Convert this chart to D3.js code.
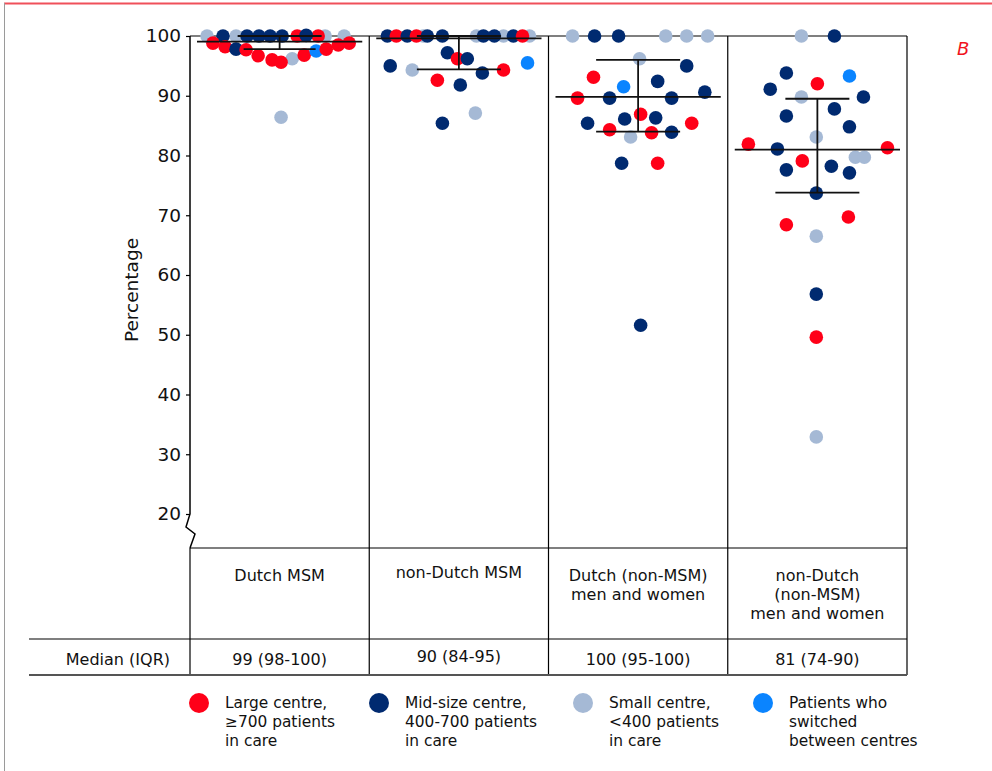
<!DOCTYPE html>
<html><head><meta charset="utf-8">
<script src="https://cdn.jsdelivr.net/npm/d3@7"></script>
<style>
html,body{margin:0;padding:0;background:#fff;}
svg{display:block;font-family:"DejaVu Sans",Verdana,sans-serif;}
</style></head>
<body><svg id="chart" width="992" height="771"></svg>
<script>
// ---------- DATA ----------
const categories = ["Dutch MSM", "non-Dutch MSM", "Dutch (non-MSM) men and women", "non-Dutch (non-MSM) men and women"];
const headerLines = [["Dutch MSM"], ["non-Dutch MSM"], ["Dutch (non-MSM)", "men and women"], ["non-Dutch", "(non-MSM)", "men and women"]];
const medianLabels = ["99 (98-100)", "90 (84-95)", "100 (95-100)", "81 (74-90)"];
const medians = [99.05, 99.6, 89.8, 81.0];
const lowerQ = [97.8, 94.4, 84.0, 73.8];
const upperQ = [100, 100, 96.0, 89.5];
const yTicks = [20, 30, 40, 50, 60, 70, 80, 90, 100];
const groupKeys = ["L", "M", "S", "P"];
const groupLabels = [
  ["Large centre,", "\u2265700 patients", "in care"],
  ["Mid-size centre,", "400-700 patients", "in care"],
  ["Small centre,", "<400 patients", "in care"],
  ["Patients who", "switched", "between centres"]
];
// points: [percentage, horizontal jitter (fraction of column), centre group]
const dutchMSM = [
  [100, -0.405, "S"], [100, -0.243, "S"], [100, 0.254, "S"], [100, 0.360, "S"],
  [100, -0.316, "M"], [100, -0.182, "M"], [100, -0.115, "M"], [100, -0.053, "M"], [100, 0.014, "M"],
  [100, 0.098, "L"], [100, 0.215, "L"], [100.1, 0.148, "M"],
  [98.8, -0.372, "L"], [98.2, -0.304, "L"], [97.8, -0.243, "M"], [97.7, -0.187, "L"],
  [96.7, -0.120, "L"], [96.0, -0.042, "L"], [96.2, 0.070, "S"], [95.6, 0.008, "L"],
  [96.8, 0.137, "L"], [97.5, 0.204, "P"], [97.8, 0.260, "L"], [98.5, 0.327, "L"], [98.8, 0.388, "L"],
  [86.4, 0.008, "S"]
];
const nonDutchMSM = [
  [100, -0.198, "S"], [100, 0.098, "S"], [100, 0.249, "S"], [100, 0.394, "S"],
  [100, -0.399, "M"], [100, -0.349, "L"], [100, -0.288, "M"], [100, -0.237, "L"], [100, -0.176, "M"],
  [100, -0.092, "M"], [100, 0.137, "M"], [100, 0.198, "M"], [100, 0.304, "M"], [100, 0.355, "L"],
  [97.2, -0.064, "M"], [96.2, -0.008, "L"], [96.2, 0.047, "M"], [95.0, -0.383, "M"],
  [94.3, -0.260, "S"], [94.3, 0.249, "L"], [95.5, 0.383, "P"], [93.8, 0.131, "M"],
  [92.6, -0.120, "L"], [91.8, 0.008, "M"], [87.1, 0.092, "S"], [85.4, -0.092, "M"]
];
const dutchOther = [
  [100, -0.366, "S"], [100, -0.243, "M"], [100, -0.109, "M"], [100, 0.154, "S"], [100, 0.271, "S"], [100, 0.388, "S"],
  [96.2, 0.008, "S"], [95.0, 0.271, "M"], [93.1, -0.249, "L"], [92.4, 0.109, "M"], [91.5, -0.081, "P"],
  [90.6, 0.372, "M"], [89.6, -0.338, "L"], [89.6, -0.159, "M"], [89.6, 0.187, "M"],
  [83.1, -0.042, "S"], [86.9, 0.014, "L"], [85.4, -0.282, "M"], [86.1, -0.075, "M"], [86.3, 0.098, "M"],
  [85.4, 0.299, "L"], [84.3, -0.159, "L"], [83.8, 0.075, "L"], [83.9, 0.187, "M"],
  [78.7, -0.092, "M"], [78.7, 0.109, "L"], [51.6, 0.014, "M"]
];
const nonDutchOther = [
  [100, -0.089, "S"], [100, 0.095, "M"], [93.8, -0.173, "M"], [93.3, 0.179, "P"], [92.0, 0.0, "L"],
  [91.1, -0.263, "M"], [89.8, 0.257, "M"], [89.8, -0.089, "S"], [87.8, 0.095, "M"], [86.6, -0.173, "M"],
  [84.8, 0.179, "M"], [83.1, -0.006, "S"], [81.9, -0.385, "L"], [81.3, 0.391, "L"], [81.1, -0.223, "M"],
  [79.7, 0.212, "S"], [79.7, 0.262, "S"], [79.1, -0.084, "L"], [78.2, 0.078, "M"], [77.6, -0.173, "M"],
  [77.1, 0.179, "M"], [73.7, -0.006, "M"], [68.4, -0.173, "L"], [69.7, 0.173, "L"], [66.5, -0.006, "S"],
  [56.8, -0.006, "M"], [49.6, -0.006, "L"], [32.9, -0.006, "S"]
];
const pointSets = [dutchMSM, nonDutchMSM, dutchOther, nonDutchOther];

// ---------- STYLE / LAYOUT ----------
const colors = {L: "#ff0018", M: "#002a70", S: "#a5b9d5", P: "#0a84ff"};
const svg = d3.select("#chart");
const plotLeft = 190, plotRight = 907, plotTop = 36, axisBottom = 514, headerTop = 548, rowTop = 639, rowBottom = 675;
const tableFont = 16;

const x = d3.scaleBand().domain(categories).range([plotLeft, plotRight]).padding(0);
const bw = x.bandwidth();
const y = d3.scaleLinear().domain([20, 100]).range([axisBottom, plotTop]);
const jit = d3.scaleLinear().domain([-0.5, 0.5]).range([-bw / 2, bw / 2]);

// decorative page border
svg.append("line").attr("x1", 4).attr("x2", 992).attr("y1", 3.5).attr("y2", 3.5)
  .attr("stroke", "#f0505a").attr("stroke-width", 1.8);
svg.append("line").attr("x1", 4.5).attr("x2", 4.5).attr("y1", 3).attr("y2", 771)
  .attr("stroke", "#9a9a9a").attr("stroke-width", 1);

// Panel label B
svg.append("text").attr("x", 957).attr("y", 55).attr("fill", "#f0141e")
  .attr("font-size", 18).attr("font-style", "italic").text("B");

// Column lines
const colEdges = categories.map(c => x(c)).concat([plotRight]);
colEdges.forEach((cx, i) => {
  if (i === 0) return;
  svg.append("line").attr("x1", cx).attr("x2", cx).attr("y1", plotTop).attr("y2", rowBottom)
    .attr("stroke", "#000").attr("stroke-width", 1.2);
});
svg.append("line").attr("x1", plotLeft).attr("x2", plotRight).attr("y1", plotTop).attr("y2", plotTop)
  .attr("stroke", "#000").attr("stroke-width", 1.2);
svg.append("line").attr("x1", plotLeft).attr("x2", plotRight).attr("y1", headerTop).attr("y2", headerTop)
  .attr("stroke", "#000").attr("stroke-width", 1.2);
svg.append("line").attr("x1", plotLeft).attr("x2", plotLeft).attr("y1", headerTop).attr("y2", rowBottom)
  .attr("stroke", "#000").attr("stroke-width", 1.2);
svg.append("line").attr("x1", 29).attr("x2", plotRight).attr("y1", rowTop).attr("y2", rowTop)
  .attr("stroke", "#000").attr("stroke-width", 1.2);
svg.append("line").attr("x1", 29).attr("x2", plotRight).attr("y1", rowBottom).attr("y2", rowBottom)
  .attr("stroke", "#555").attr("stroke-width", 2);

// Y axis
const yAxis = d3.axisLeft(y).tickValues(yTicks).tickSize(4).tickPadding(5);
const gy = svg.append("g").attr("transform", `translate(${plotLeft},0)`).call(yAxis);
gy.select(".domain").remove();
gy.selectAll(".tick line").attr("stroke", "#000").attr("stroke-width", 1.2);
gy.selectAll(".tick text").attr("font-size", 18.5).attr("fill", "#111")
  .attr("font-family", "DejaVu Sans, Verdana, sans-serif");
svg.append("path")
  .attr("d", `M${plotLeft},${plotTop}L${plotLeft},${axisBottom}L${plotLeft - 4},${axisBottom + 13}L${plotLeft + 5},${axisBottom + 20}L${plotLeft},${headerTop}`)
  .attr("fill", "none").attr("stroke", "#000").attr("stroke-width", 1.5);
svg.append("text").attr("transform", `translate(138,${(plotTop + axisBottom) / 2 + 15}) rotate(-90)`)
  .attr("text-anchor", "middle").attr("font-size", 18.5).attr("fill", "#111").text("Percentage");

// Dots
categories.forEach((c, i) => {
  const cx0 = x(c) + bw / 2;
  svg.append("g").selectAll("circle").data(pointSets[i]).join("circle")
    .attr("cx", d => cx0 + jit(d[1]))
    .attr("cy", d => y(d[0]))
    .attr("r", 6.8)
    .attr("fill", d => colors[d[2]]);
});

// Median and IQR lines
categories.forEach((c, i) => {
  const cx0 = x(c) + bw / 2;
  const g = svg.append("g").attr("stroke", "#111").attr("stroke-width", 1.8);
  g.append("line").attr("x1", x(c) + 7).attr("x2", x(c) + bw - 7)
    .attr("y1", y(medians[i])).attr("y2", y(medians[i]));
  g.append("line").attr("x1", cx0).attr("x2", cx0)
    .attr("y1", y(upperQ[i])).attr("y2", y(lowerQ[i]));
  const capU = i === 3 ? 32 : 42;
  g.append("line").attr("x1", cx0 - capU).attr("x2", cx0 + capU)
    .attr("y1", y(upperQ[i])).attr("y2", y(upperQ[i]));
  const capL = i === 0 ? 36 : 42;
  g.append("line").attr("x1", cx0 - capL).attr("x2", cx0 + capL)
    .attr("y1", y(lowerQ[i])).attr("y2", y(lowerQ[i]));
});

// Table text
categories.forEach((c, i) => {
  const t = svg.append("text").attr("text-anchor", "middle").attr("font-size", tableFont).attr("fill", "#111");
  headerLines[i].forEach((ln, k) => {
    t.append("tspan").attr("x", x(c) + bw / 2).attr("y", (i === 1 ? 578 : 581) + k * 19).text(ln);
  });
  svg.append("text").attr("x", x(c) + bw / 2).attr("y", i === 1 ? 662 : 665)
    .attr("text-anchor", "middle").attr("font-size", tableFont).attr("fill", "#111").text(medianLabels[i]);
});
svg.append("text").attr("x", 170).attr("y", 665).attr("text-anchor", "end")
  .attr("font-size", tableFont).attr("fill", "#111").text("Median (IQR)");

// Legend
const legendX = [199, 379, 583, 763];
groupKeys.forEach((k, i) => {
  svg.append("circle").attr("cx", legendX[i]).attr("cy", 703).attr("r", 10).attr("fill", colors[k]);
  const t = svg.append("text").attr("font-size", 15.4).attr("fill", "#111");
  groupLabels[i].forEach((ln, j) => {
    t.append("tspan").attr("x", legendX[i] + 26).attr("y", 708 + j * 19).text(ln);
  });
});
</script></body></html>
